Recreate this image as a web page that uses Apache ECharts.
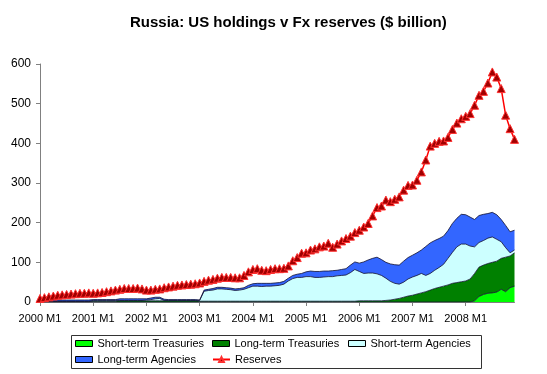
<!DOCTYPE html>
<html>
<head>
<meta charset="utf-8">
<script src="https://cdn.jsdelivr.net/npm/echarts@6/dist/echarts.min.js"></script>
<style>
html,body{margin:0;padding:0;background:#fff;}
#chart{width:547px;height:374px;}
</style>
</head>
<body>
<div id="chart"></div>
<script>
// ---- Data (US$ billion, monthly 2000 M1 .. 2008 M12) ----
var years = [2000, 2001, 2002, 2003, 2004, 2005, 2006, 2007, 2008];
var months = ['M1','M2','M3','M4','M5','M6','M7','M8','M9','M10','M11','M12'];
var categories = [];
years.forEach(function (y) { months.forEach(function (m) { categories.push(y + ' ' + m); }); });

var yTicks = [0, 100, 200, 300, 400, 500, 600];

var shortTermTreasuries = [
  0,0,0,0,0,0,0,0,0,0,0,0,
  0,0,0,0,0,0,0,0,0,0,0,0,
  0,0,0,0,0,0,0,0,0,0,0,0,
  0,0,0,0,0,0,0,0,0,0,0,0,
  0,0,0,0,0,0,0,0,0,0,0,0,
  0,0,0,0,0,0,0,0,0,0,0,0,
  0,0,0,0,0,0,0,0,0,0,0,0,
  0,0,0,0,0,0,0,0,0,0,0,0,
  0,0,3,14,19,22,23,25,32,26,36,40
];
var longTermTreasuries = [
  1,1,1,1,1,1,1,1,1,1,1,1,
  2,2,2,2,2,2,3,3,3,3,3,3,
  3,3,3,3,3,3,3,3,3,3,3,3,
  2,2,2,2,2,2,2,2,2,2,2,2,
  2,2,2,2,2,2,2,2,2,2,2,2,
  2,2,2,2,2,2,2,2,2,2,2,2,
  3,3,3,3,3,3,4,5,7,9,12,15,
  17,20,23,26,30,34,37,40,43,47,49,51,
  53,58,69,74,74,75,77,78,78,87,80,84
];
var shortTermAgencies = [
  1,1,1,1,1,1,1,1,1,1,1,1,
  2,2,2,2,2,2,1,1,1,1,1,1,
  2,3,5,6,1,1,1,1,1,1,1,1,
  2,25,27,28,31,31,30,29,27,28,30,34,
  38,38,37,38,38,39,40,43,51,57,60,60,
  62,62,60,60,61,62,62,64,65,66,72,80,
  74,69,70,70,68,64,56,47,40,36,38,43,
  46,47,49,41,42,46,50,55,67,78,90,95,
  93,83,67,62,62,64,64,55,42,24,8,7
];
var longTermAgencies = [
  3,3,3,3,3,3,3,3,3,3,3,3,
  2,2,2,2,2,2,4,4,4,4,4,4,
  3,4,4,3,3,2,2,2,2,2,2,2,
  1,3,3,4,4,4,4,4,4,4,4,6,
  6,7,8,7,7,7,7,7,7,8,8,10,
  12,14,15,15,15,14,15,14,15,16,19,19,
  21,29,33,37,42,40,40,44,47,48,53,54,
  55,57,59,73,77,75,73,71,70,73,72,75,
  74,73,69,68,66,62,62,62,56,56,53,50
];
var reserves = [
  9,11,13,15,17,18,19,20,21,22,22,23,
  22,23,24,26,28,30,32,34,34,34,35,33,
  30,30,32,33,36,38,40,42,43,44,45,46,
  48,52,55,57,60,62,62,62,61,61,67,76,
  82,84,80,79,82,84,84,85,91,104,112,123,
  124,131,134,139,141,148,138,146,154,160,166,175,
  181,189,198,217,238,242,257,253,259,265,282,294,
  295,307,328,358,393,400,405,406,415,435,451,462,
  468,475,496,521,531,552,580,567,538,471,437,410
];

var seriesNames = ['Short-term Treasuries', 'Long-term Treasuries', 'Short-term Agencies', 'Long-term Agencies', 'Reserves'];
var areaColors = ['#00FF00', '#008000', '#CCFFFF', '#3366FF'];
var areaData = [shortTermTreasuries, longTermTreasuries, shortTermAgencies, longTermAgencies];

var FONT = 'Liberation Sans, Arial, sans-serif';
var chart = echarts.init(document.getElementById('chart'), null, {renderer: 'canvas'});

var series = areaData.map(function (d, i) {
  return {
    name: seriesNames[i], type: 'line', stack: 'us', data: d,
    symbol: 'none', showSymbol: false, smooth: false,
    lineStyle: {width: 0.8, color: '#101030'},
    areaStyle: {color: areaColors[i], opacity: 1},
    itemStyle: {color: areaColors[i]},
    z: 2
  };
});
series.push({
  name: 'Reserves', type: 'line', data: reserves,
  symbol: 'triangle', symbolSize: 8, showSymbol: true, showAllSymbol: true,
  lineStyle: {width: 1.5, color: '#FF0000'},
  itemStyle: {color: '#A00000', borderColor: '#FF3030', borderWidth: 1},
  z: 5
});

function legendItem(i) {
  if (i === 4) return {name: seriesNames[4]};
  return {name: seriesNames[i], icon: 'rect', itemStyle: {color: areaColors[i], borderColor: '#000', borderWidth: 1}};
}
// legend slot positions: [series index, left, top]
var legendSlots = [[0, 75, 338], [1, 212, 338], [2, 348, 338], [3, 75, 354], [4, 212, 354]];
var legends = legendSlots.map(function (s) {
  return {
    orient: 'horizontal', left: s[1], top: s[2], padding: 0,
    itemWidth: 17, itemHeight: 6, itemGap: 0,
    textStyle: {fontFamily: FONT, fontSize: 11, color: '#000'},
    data: [legendItem(s[0])]
  };
});

chart.setOption({
  animation: false,
  backgroundColor: '#fff',
  title: {
    text: 'Russia: US holdings v Fx reserves ($ billion)',
    left: 125, top: 10,
    textStyle: {fontFamily: FONT, fontSize: 15, fontWeight: 'bold', color: '#000'}
  },
  grid: {left: 40, right: 32.5, top: 64, bottom: 72, containLabel: false},
  legend: legends,
  graphic: [{
    type: 'rect', shape: {x: 71.5, y: 335.5, width: 410, height: 33},
    style: {fill: 'none', stroke: '#333', lineWidth: 1}, silent: true, z: -1
  }],
  xAxis: {
    type: 'category', data: categories, boundaryGap: false,
    axisLine: {lineStyle: {color: '#808080', width: 1}},
    axisTick: {show: true, interval: 11, length: 4, lineStyle: {color: '#808080'}},
    axisLabel: {interval: 11, margin: 11, fontFamily: FONT, fontSize: 11, color: '#000'},
    splitLine: {show: false}
  },
  yAxis: {
    type: 'value', min: yTicks[0], max: yTicks[yTicks.length - 1], interval: 100,
    axisLine: {show: true, lineStyle: {color: '#808080', width: 1}},
    axisTick: {show: true, length: 4, lineStyle: {color: '#808080'}},
    axisLabel: {margin: 9, fontFamily: FONT, fontSize: 12, color: '#000'},
    splitLine: {show: false}
  },
  series: series
});
</script>
</body>
</html>
